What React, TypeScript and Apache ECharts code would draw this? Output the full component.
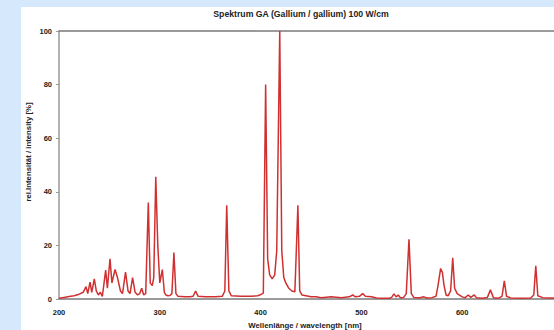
import React, { useEffect, useRef } from "react";
import * as echarts from "echarts";

const titleText = "Spektrum GA (Gallium / gallium) 100 W/cm";
const xAxisTitle = "Wellenlänge / wavelength [nm]";
const yAxisTitle = "rel.Intensität / intensity [%]";

const wavelengths = [
  200, 205, 210, 215, 220, 224, 226.8, 228.5, 230.8, 232.5, 235, 237, 239, 241, 243,
  246.3, 248, 250.6, 252.5, 255.6, 258, 261, 263, 266, 268.5, 270.5, 273, 275.5, 278,
  280, 282, 284, 286, 288.6, 290.5, 292.5, 294, 296, 298, 300, 302.5, 304.5, 306, 308,
  310, 312, 314, 316, 318, 325, 330, 333, 335.5, 338, 345, 355, 362, 364.5, 366.4,
  368.5, 371, 380, 390, 397, 400, 402.7, 405, 407, 409, 411.5, 414, 416, 419, 421, 423,
  425, 428, 431, 434, 437, 438.8, 441, 445, 450, 455, 460, 470, 480, 488, 491.4, 494,
  498, 501.3, 504, 510, 515, 520, 528, 530, 532.3, 534.5, 536.6, 538.5, 542, 544.5,
  547.2, 549.5, 552, 558, 562, 565, 570, 574, 576, 578.6, 580.3, 582, 584, 586, 588.5,
  590.6, 592.5, 595, 600, 603, 606, 608.5, 612, 614, 620, 625, 628, 631, 636, 639.5,
  641.8, 644, 648, 660, 668, 671, 673, 675, 680, 690, 700,
];

const intensities = [
  0.3, 0.6, 0.9, 1.2, 1.8, 2.5, 4.6, 2.0, 6.3, 2.5, 7.5, 3.0, 1.5, 2.5, 1.0,
  10.8, 4.0, 15, 6, 11, 8, 3, 2, 10, 3, 2, 8, 2.5, 1.5,
  2, 4, 1.5, 2, 36, 6, 5, 8, 45.6, 20, 6, 11, 2.5, 1.5, 1.2,
  1.3, 2, 17.3, 2, 1, 0.8, 0.8, 1, 3, 1, 0.8, 0.8, 1, 3, 35,
  3, 1.2, 1, 1, 1.2, 1.6, 2.2, 80, 15, 9, 7.5, 9, 18, 100, 18, 8,
  6, 4, 3, 2.7, 35, 3, 1.5, 1.2, 0.8, 0.8, 0.5, 0.8, 0.5, 0.8, 1.5, 0.8,
  1, 2, 1, 0.8, 0.4, 0.3, 0.3, 0.6, 1.9, 0.8, 1.5, 0.5, 0.6, 2,
  22.3, 2, 0.6, 0.5, 0.8, 0.4, 0.5, 1, 5, 11.4, 10, 5, 1.5, 1.2, 3,
  15.4, 4, 2, 0.8, 0.5, 1.5, 0.6, 1.5, 0.5, 0.3, 0.6, 3.4, 0.5, 0.3, 1,
  6.8, 1, 0.4, 0.3, 0.4, 1.5, 12.4, 1.2, 0.5, 0.4, 0.4,
];

const FONT = "'Liberation Sans', Arial, sans-serif";

export default function App() {
  const ref = useRef<HTMLDivElement>(null);

  useEffect(() => {
    if (!ref.current) return;
    const chart = echarts.init(ref.current, undefined, { renderer: "svg" });
    const data = wavelengths.map((w, i) => [w, intensities[i]]);
    chart.setOption({
      animation: false,
      grid: { left: 59, top: 31, right: 620 - 563, bottom: 31, containLabel: false },
      xAxis: [
        {
          type: "value",
          min: 200,
          max: 700,
          interval: 100,
          axisLine: { show: true, lineStyle: { color: "#7a7a7a", width: 1.5 } },
          axisTick: { show: false },
          splitLine: { show: false },
          axisLabel: {
            color: "#222",
            fontFamily: FONT,
            fontSize: 7.5,
            fontWeight: "bold",
            margin: 9,
            showMaxLabel: false,
          },
        },
        {
          type: "value",
          position: "top",
          min: 200,
          max: 700,
          axisLine: { show: true, lineStyle: { color: "#7a7a7a", width: 1.5 } },
          axisTick: { show: false },
          axisLabel: { show: false },
          splitLine: { show: false },
        },
      ],
      yAxis: {
        type: "value",
        min: 0,
        max: 100,
        interval: 20,
        axisLine: { show: true, lineStyle: { color: "#9a9a9a", width: 1.5 } },
        axisTick: { show: true, length: 3, lineStyle: { color: "#9a9a9a" } },
        splitLine: { show: false },
        axisLabel: {
          color: "#222",
          fontFamily: FONT,
          fontSize: 7.5,
          fontWeight: "bold",
          margin: 7,
        },
      },
      graphic: [
        {
          type: "text",
          x: 301,
          y: 14,
          style: {
            text: titleText,
            fill: "#222",
            font: `bold 8.7px ${FONT}`,
            textAlign: "center",
            textVerticalAlign: "middle",
          },
        },
        {
          type: "text",
          x: 305,
          y: 325,
          style: {
            text: xAxisTitle,
            fill: "#222",
            font: `bold 7.8px ${FONT}`,
            textAlign: "center",
            textVerticalAlign: "middle",
          },
        },
        {
          type: "text",
          x: 28,
          y: 152,
          rotation: Math.PI / 2,
          style: {
            text: yAxisTitle,
            fill: "#222",
            font: `bold 7.8px ${FONT}`,
            textAlign: "center",
            textVerticalAlign: "middle",
          },
        },
      ],
      series: [
        {
          type: "line",
          xAxisIndex: 0,
          data,
          showSymbol: false,
          symbol: "none",
          lineStyle: { color: "#d03030", width: 1.5 },
          z: 3,
        },
      ],
    });
    return () => chart.dispose();
  }, []);

  return (
    <div
      style={{
        position: "fixed",
        left: 0,
        top: 0,
        width: 554,
        height: 330,
        overflow: "hidden",
        background: "#d6e9fc",
      }}
    >
      <div
        style={{
          position: "absolute",
          left: 21,
          top: 7,
          width: 700,
          height: 400,
          background: "#ffffff",
        }}
      />
      <div
        ref={ref}
        style={{ position: "absolute", left: 0, top: 0, width: 620, height: 330 }}
      />
    </div>
  );
}
